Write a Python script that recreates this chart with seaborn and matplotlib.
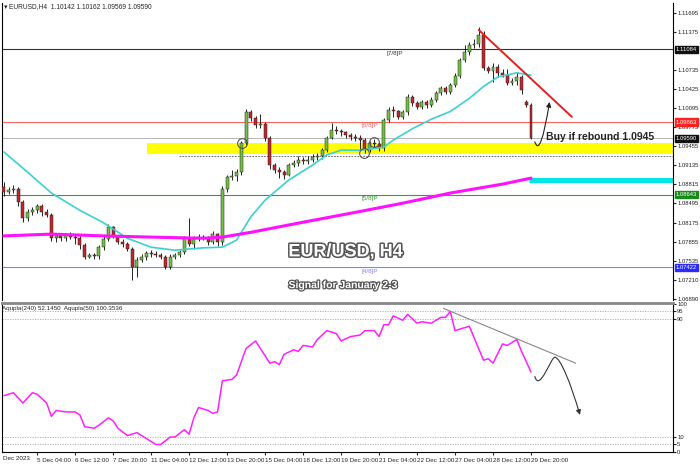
import matplotlib
matplotlib.use("Agg")
import matplotlib.pyplot as plt
import matplotlib.patheffects as pe
from matplotlib.path import Path
from matplotlib.patches import FancyArrowPatch
from matplotlib.transforms import blended_transform_factory
import numpy as np
import seaborn as sns

# EURUSD H4 candles, 4 Dec - 29 Dec 2023
opens = [1.0877, 1.0869, 1.0872, 1.0874, 1.0852, 1.0825, 1.0835, 1.0838, 1.0845, 1.0835,
         1.0830, 1.0791, 1.0795, 1.0791, 1.0796, 1.0793, 1.0791, 1.0780, 1.0760, 1.0763,
         1.0761, 1.0776, 1.0790, 1.0810, 1.0795, 1.0785, 1.0781, 1.0773, 1.0743, 1.0755,
         1.0760, 1.0766, 1.0765, 1.0763, 1.0760, 1.0743, 1.0760, 1.0763, 1.0768, 1.0791,
         1.0781, 1.0791, 1.0793, 1.0792, 1.0785, 1.0798, 1.0785, 1.0874, 1.0894, 1.0896,
         1.0902, 1.0951, 1.1003, 1.0993, 1.0981, 1.0983, 1.0960, 1.0914, 1.0906, 1.0902,
         1.0898, 1.0914, 1.0918, 1.0922, 1.0920, 1.0922, 1.0927, 1.0929, 1.0939, 1.0960,
         1.0973, 1.0971, 1.0969, 1.0964, 1.0961, 1.0960, 1.0956, 1.0939, 1.0951, 1.0950,
         1.0942, 1.0990, 1.1007, 1.1005, 1.0995, 1.1003, 1.1028, 1.1018, 1.1012, 1.1020,
         1.1015, 1.1023, 1.1035, 1.1044, 1.1037, 1.1049, 1.1064, 1.1091, 1.1104, 1.1116,
         1.1117, 1.1133, 1.1077, 1.1072, 1.1079, 1.1069, 1.1066, 1.1052, 1.1056, 1.1062,
         1.1020, 1.1015]
closes = [1.0869, 1.0872, 1.0874, 1.0852, 1.0825, 1.0835, 1.0838, 1.0845, 1.0835, 1.0830,
          1.0791, 1.0795, 1.0791, 1.0796, 1.0793, 1.0791, 1.0780, 1.0760, 1.0763, 1.0761,
          1.0776, 1.0790, 1.0810, 1.0795, 1.0785, 1.0781, 1.0773, 1.0743, 1.0755, 1.0760,
          1.0766, 1.0765, 1.0763, 1.0760, 1.0743, 1.0760, 1.0763, 1.0768, 1.0791, 1.0781,
          1.0791, 1.0793, 1.0792, 1.0785, 1.0798, 1.0785, 1.0874, 1.0894, 1.0896, 1.0902,
          1.0951, 1.1003, 1.0993, 1.0981, 1.0983, 1.0960, 1.0914, 1.0906, 1.0902, 1.0898,
          1.0914, 1.0918, 1.0922, 1.0920, 1.0922, 1.0927, 1.0929, 1.0939, 1.0960, 1.0973,
          1.0971, 1.0969, 1.0964, 1.0961, 1.0960, 1.0956, 1.0939, 1.0951, 1.0950, 1.0942,
          1.0990, 1.1007, 1.1005, 1.0995, 1.1003, 1.1028, 1.1018, 1.1012, 1.1020, 1.1015,
          1.1023, 1.1035, 1.1044, 1.1037, 1.1049, 1.1064, 1.1091, 1.1104, 1.1116, 1.1117,
          1.1133, 1.1077, 1.1072, 1.1079, 1.1069, 1.1066, 1.1052, 1.1056, 1.1062, 1.1040,
          1.1015, 1.0959]
highs = [1.0885, 1.0877, 1.0880, 1.0877, 1.0856, 1.0840, 1.0844, 1.0849, 1.0848, 1.0840,
         1.0833, 1.0799, 1.0798, 1.0800, 1.0801, 1.0797, 1.0794, 1.0783, 1.0766, 1.0766,
         1.0779, 1.0794, 1.0815, 1.0812, 1.0797, 1.0790, 1.0784, 1.0776, 1.0760, 1.0764,
         1.0770, 1.0771, 1.0769, 1.0767, 1.0763, 1.0764, 1.0767, 1.0772, 1.0795, 1.0825,
         1.0795, 1.0798, 1.0797, 1.0795, 1.0804, 1.0800, 1.0878, 1.0898, 1.0906, 1.0908,
         1.0955, 1.1008, 1.1006, 1.0996, 1.0999, 1.0987, 1.0963, 1.0918, 1.0910, 1.0906,
         1.0918, 1.0923, 1.0930, 1.0927, 1.0930, 1.0932, 1.0934, 1.0942, 1.0963, 1.0984,
         1.0980, 1.0975, 1.0972, 1.0968, 1.0966, 1.0965, 1.0959, 1.0955, 1.0957, 1.0953,
         1.0993, 1.1012, 1.1013, 1.1007, 1.1007, 1.1033, 1.1031, 1.1021, 1.1024, 1.1023,
         1.1028, 1.1039, 1.1047, 1.1047, 1.1052, 1.1068, 1.1094, 1.1116, 1.1120, 1.1125,
         1.1146, 1.1139, 1.1081, 1.1086, 1.1083, 1.1076, 1.1075, 1.1060, 1.1070, 1.1066,
         1.1023, 1.1018]
lows = [1.0862, 1.0865, 1.0867, 1.0846, 1.0818, 1.0820, 1.0830, 1.0834, 1.0829, 1.0826,
        1.0787, 1.0785, 1.0786, 1.0787, 1.0789, 1.0781, 1.0773, 1.0756, 1.0758, 1.0757,
        1.0757, 1.0772, 1.0786, 1.0792, 1.0781, 1.0777, 1.0770, 1.0721, 1.0726, 1.0751,
        1.0755, 1.0760, 1.0759, 1.0756, 1.0740, 1.0740, 1.0757, 1.0760, 1.0765, 1.0778,
        1.0773, 1.0787, 1.0788, 1.0780, 1.0782, 1.0778, 1.0780, 1.0868, 1.0889, 1.0887,
        1.0898, 1.0948, 1.0988, 1.0976, 1.0977, 1.0955, 1.0908, 1.0900, 1.0892, 1.0890,
        1.0895, 1.0910, 1.0912, 1.0915, 1.0916, 1.0919, 1.0922, 1.0925, 1.0936, 1.0957,
        1.0966, 1.0963, 1.0960, 1.0956, 1.0954, 1.0940, 1.0935, 1.0936, 1.0945, 1.0937,
        1.0938, 1.0986, 1.0994, 1.0991, 1.0992, 1.0998, 1.1014, 1.1008, 1.1009, 1.1010,
        1.1011, 1.1020, 1.1031, 1.1033, 1.1034, 1.1046, 1.1061, 1.1088, 1.1099, 1.1110,
        1.1113, 1.1073, 1.1069, 1.1054, 1.1062, 1.1062, 1.1048, 1.1049, 1.1048, 1.1034,
        1.1012, 1.0957]

# moving averages (read at sample bars)
ma21_bar = [0, 5, 10, 16, 21, 26, 31, 36, 42, 46, 49, 52, 55, 60, 65, 68, 71, 75, 80, 82,
            86, 90, 94, 98, 101, 104, 108, 111]
ma21_val = [1.0936, 1.0902, 1.0867, 1.0838, 1.0817, 1.0791, 1.0776, 1.0771, 1.0775, 1.0776,
            1.0788, 1.0827, 1.0855, 1.0889, 1.0914, 1.0931, 1.0939, 1.0939, 1.0944, 1.0956,
            1.0975, 1.0991, 1.1004, 1.1026, 1.1046, 1.1062, 1.1069, 1.1065]
ma200_bar = [0, 10, 21, 31, 42, 46, 52, 63, 73, 84, 94, 105, 111]
ma200_val = [1.0795, 1.0798, 1.0795, 1.0793, 1.0791, 1.0793, 1.0801, 1.0818, 1.0833, 1.0850,
             1.0867, 1.0882, 1.0892]

# oscillator
osc_bar = [0, 2, 4, 6, 7, 9, 10, 11, 13, 15, 16, 17, 19, 20, 22, 23, 24, 26, 28, 30,
           32, 33, 35, 36, 38, 39, 40, 41, 43, 44, 45, 46, 48, 49, 51, 53, 54, 56, 57, 58,
           59, 61, 62, 63, 65, 66, 68, 70, 71, 73, 75, 76, 78, 79, 80, 81, 82, 84, 85, 87,
           88, 90, 92, 93, 94, 95, 98, 101, 102, 103, 105, 106, 108, 109, 111]
osc_val = [38, 40, 33, 40, 39, 33, 24, 28, 27, 27, 25, 17, 16, 18, 23, 21, 16, 11, 13, 9,
           5, 5, 10, 10, 15, 12, 23, 30, 28, 26, 27, 48, 49, 52, 70, 75, 70, 60, 61, 59,
           66, 69, 68, 72, 71, 76, 82, 80, 75, 78, 79, 82, 82, 78, 86, 86, 92, 89, 93, 87,
           88, 87, 91, 91, 95, 82, 85, 62, 63, 60, 73, 72, 76, 68, 54]

price_ticks = [1.06890, 1.07210, 1.07535, 1.07855, 1.08175, 1.08495, 1.08815, 1.09135,
               1.09455, 1.09775, 1.10095, 1.10425, 1.10735, 1.11375, 1.11695]
osc_ticks = [0, 5, 10, 90, 95, 100]
time_bars = [7, 15, 23, 31, 39, 47, 55, 63, 71, 79, 87, 95, 103, 111]
time_labels = ["5 Dec 04:00", "6 Dec 12:00", "7 Dec 20:00", "11 Dec 04:00", "12 Dec 12:00",
               "13 Dec 20:00", "15 Dec 04:00", "18 Dec 12:00", "19 Dec 20:00", "21 Dec 04:00",
               "22 Dec 12:00", "27 Dec 04:00", "28 Dec 12:00", "29 Dec 20:00"]

level_prices = [1.11084, 1.09863, 1.08643, 1.07422]
level_names = ["[7/8]P", "[6/8]P", "[5/8]P", "[4/8]P"]
level_colors = ["#333333", "#ff6060", "#3a9a3a", "#8080ff"]
level_label_bar = [80.5, 75.2, 75.2, 75.2]

buy_zone = (1.0932, 1.0951)
buy_price = 1.0945
last_price = 1.09590

sns.set_style("white")
plt.rcParams["font.family"] = ["Liberation Sans", "DejaVu Sans"]

fig = plt.figure(figsize=(7, 4.66), dpi=100)
ax = fig.add_axes([2 / 700, 166 / 466, 671 / 700, 297 / 466])
ax2 = fig.add_axes([2 / 700, 14 / 466, 671 / 700, 149 / 466], sharex=ax)

n = len(closes)
x = np.arange(n)
o = np.array(opens); c = np.array(closes)
up = c >= o

# zones and levels
ax.axhspan(buy_zone[0], buy_zone[1], xmin=(30.1 + 0.4) / 141.3, xmax=1, color="#ffff00", zorder=0.5, lw=0)
ax.hlines(1.0929, 36.8, 141, colors="#555555", linestyles=(0, (2, 1.5)), lw=0.6, zorder=0.6)
for lv, nm, col, lb in zip(level_prices, level_names, level_colors, level_label_bar):
    ax.axhline(lv, color=col, lw=0.8, zorder=0.7)
    ax.text(lb, lv - 0.0002, nm, color=col, fontsize=4.5, va="top", ha="left")
ax.axhline(last_price, color="#aaaaaa", lw=0.6, zorder=0.7)
ax.hlines(1.0889, 110.5, 141, colors="#00e6e6", lw=3.6, zorder=1)

# candles
ax.vlines(x, lows, highs, color="black", lw=0.6, zorder=2)
body_lo = np.minimum(o, c)
body_h = np.maximum(np.abs(c - o), 0.00004)
ax.bar(x, body_h, bottom=body_lo, width=0.62, color=np.where(up, "#72c043", "#c0262b"),
       edgecolor="#222222", linewidth=0.35, zorder=3)

sns.lineplot(x=ma21_bar, y=ma21_val, ax=ax, color="#3cd0d0", lw=1.2, zorder=4)
sns.lineplot(x=ma200_bar, y=ma200_val, ax=ax, color="#ff10ff", lw=2.2, zorder=4)

# circles
circ_bar = [50.1, 75.8, 77.9]
circ_price = [1.0951, 1.09343, 1.09528]
ax.plot(circ_bar, circ_price, "o", ms=7, mfc="none", mec="#555555", mew=0.8, zorder=5)

# trend line and arrow
ax.plot([100, 119.6], [1.1141, 1.0995], color="#e32020", lw=1.4, zorder=5)
arr = FancyArrowPatch(path=Path([(111.8, 1.0953), (113.0, 1.0925), (114.9, 1.1020)],
                                [Path.MOVETO, Path.CURVE3, Path.CURVE3]),
                      arrowstyle="-|>", mutation_scale=7, lw=0.8, color="#222222", zorder=6)
ax.add_patch(arr)

ax.text(137.0, 1.0962, "Buy if rebound 1.0945", fontsize=7.5, fontweight="bold",
        ha="right", va="center", zorder=6)

ax.text(0.512, 0.162, "EUR/USD, H4", transform=ax.transAxes, fontsize=13, fontweight="bold",
        color="white", ha="center", va="center",
        path_effects=[pe.SimplePatchShadow(offset=(1.2, -1.2), shadow_rgbFace="#888888"),
                      pe.withStroke(linewidth=2.2, foreground="#555555")], zorder=7)
ax.text(0.508, 0.05, "Signal for January 2-3", transform=ax.transAxes, fontsize=7.5, fontweight="bold",
        color="white", ha="center", va="center",
        path_effects=[pe.withStroke(linewidth=1.8, foreground="#555555")], zorder=7)

ax.set_xlim(-0.4, 140.9)
ax.set_ylim(1.06873, 1.11863)
ax.yaxis.tick_right()
ax.set_yticks(price_ticks)
ax.set_yticklabels([f"{v:.5f}" for v in price_ticks])
ax.tick_params(axis="y", labelsize=4.2, length=2, pad=1, colors="#222222")
ax.tick_params(axis="x", bottom=False, labelbottom=False)
for s in ["left", "right"]:
    ax.spines[s].set_color("black"); ax.spines[s].set_linewidth(0.8)
ax.spines["top"].set_visible(False)
ax.spines["bottom"].set_visible(False)
ax.set_xlabel(""); ax.set_ylabel("")

# price boxes on the axis
tr = blended_transform_factory(ax.transAxes, ax.transData)
box_prices = [1.11084, 1.09863, last_price, 1.08643, 1.07422]
box_colors = ["#111111", "#ff2020", "#111111", "#1a8a1a", "#2a2aff"]
for bp, bc in zip(box_prices, box_colors):
    ax.text(1.004, bp, f"{bp:.5f}", transform=tr, fontsize=4.2, color="white", ha="left", va="center",
            bbox=dict(boxstyle="square,pad=0.2", fc=bc, ec=bc), zorder=8, clip_on=False)

# oscillator pane
sns.lineplot(x=osc_bar, y=osc_val, ax=ax2, color="#ff20ff", lw=1.1)
for lv in [5, 10, 90, 95]:
    ax2.axhline(lv, color="#aaaaaa", lw=0.6, ls=(0, (1.5, 1.5)), zorder=0.5)
ax2.plot([92.6, 120.4], [97, 60], color="#888888", lw=0.8)
arr2 = FancyArrowPatch(path=Path([(111.8, 51), (112.8, 40), (115.2, 64), (116.0, 64),
                                  (117.2, 64), (119.5, 45), (121.3, 25)],
                                 [Path.MOVETO, Path.CURVE4, Path.CURVE4, Path.CURVE4,
                                  Path.CURVE4, Path.CURVE4, Path.CURVE4]),
                       arrowstyle="-|>", mutation_scale=7, lw=0.8, color="#333333")
ax2.add_patch(arr2)
ax2.set_ylim(-0.1, 100.7)
ax2.yaxis.tick_right()
ax2.set_yticks(osc_ticks)
ax2.set_yticklabels([str(v) for v in osc_ticks])
ax2.tick_params(axis="y", labelsize=4.2, length=2, pad=1)
ax2.set_xticks(time_bars)
ax2.set_xticklabels(time_labels)
for lab in ax2.get_xticklabels():
    lab.set_horizontalalignment("left")
ax2.tick_params(axis="x", labelsize=4.5, length=2.5, pad=1.5, direction="out", bottom=True)
for s in ["left", "right", "bottom"]:
    ax2.spines[s].set_color("black"); ax2.spines[s].set_linewidth(0.8)
ax2.spines["top"].set_color("#888888"); ax2.spines["top"].set_linewidth(2)
ax2.set_xlabel(""); ax2.set_ylabel("")
ax2.text(0.0, 0.965, "Aqupla(240) 52.1450  Aqupla(50) 100.3536", transform=ax2.transAxes,
         fontsize=4.5, ha="left", va="center")

fig.text(3 / 700, 1 - 458 / 466, "Dec 2023", fontsize=4.5, ha="left", va="center")
fig.text(4 / 700, 1 - 7 / 466, "\u25BE", fontsize=5, ha="left", va="center", family="DejaVu Sans")
fig.text(9 / 700, 1 - 7 / 466, "EURUSD,H4  1.10142 1.10162 1.09569 1.09590", fontsize=4.8,
         ha="left", va="center")

fig.savefig("out.png", dpi=100)
